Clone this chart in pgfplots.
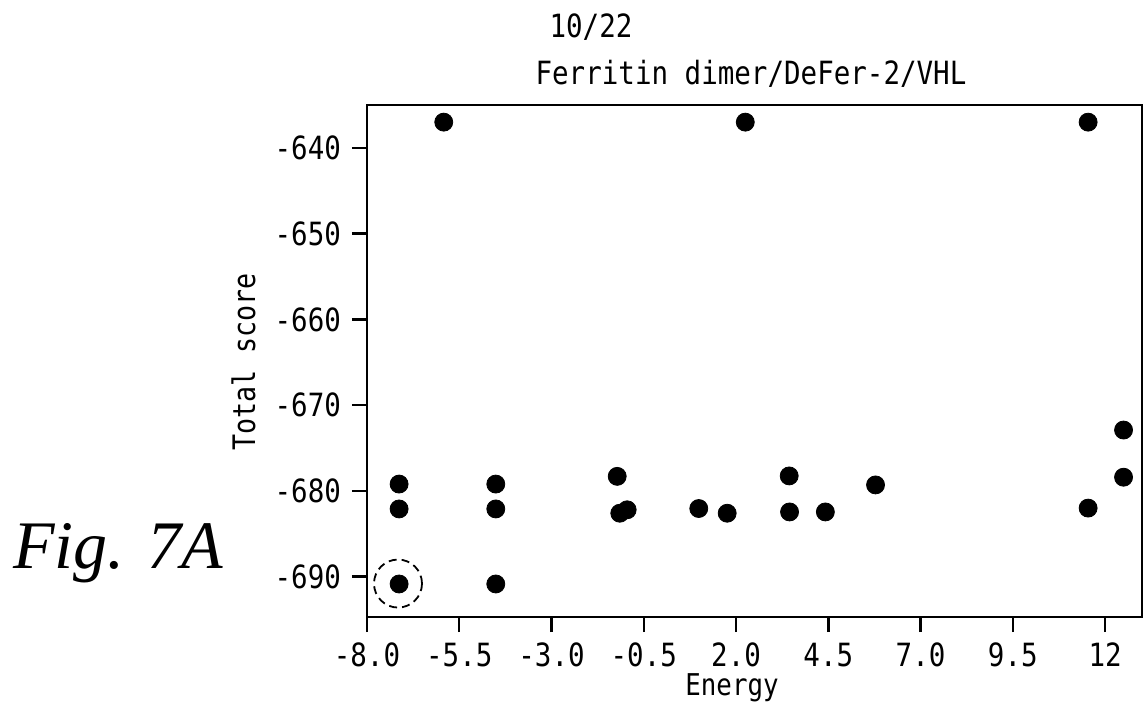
\documentclass[border=0pt]{standalone}
\usepackage{fontspec}
\usepackage{pgfplots}
\pgfplotsset{compat=1.18}
\setmainfont{DejaVu Sans Mono}
\newfontfamily\plotfont[FakeStretch=0.86]{DejaVu Sans Mono}
\newfontfamily\figfont{Liberation Serif}
\begin{document}
\begin{tikzpicture}
\begin{axis}[
  at={(0pt,0pt)}, anchor=south west,
  scale only axis, width=387.5pt, height=256pt,
  xmin=-8, xmax=13, ymin=-694.7, ymax=-635,
  axis line style={line width=1.3pt},
  xtick={-8,-5.5,-3,-0.5,2,4.5,7,9.5,12},
  xticklabels={-8.0,-5.5,-3.0,-0.5,2.0,4.5,7.0,9.5,12},
  ytick={-690,-680,-670,-660,-650,-640},
  yticklabels={-690,-680,-670,-660,-650,-640},
  xtick pos=left, ytick pos=left,
  tick align=outside,
  major tick length=7.5pt,
  tick style={line width=1.2pt, black},
  ticklabel style={font=\plotfont\fontsize{16}{18}\selectfont},
  xticklabel style={anchor=north, yshift=-2pt},
  yticklabel style={anchor=east, xshift=-2pt},
  xlabel={Energy},
  x label style={font=\plotfont\fontsize{15}{17}\selectfont, at={(rel axis cs:0,0)}, anchor=base, xshift=182.5pt, yshift=-39pt},
  clip=false,
]
\addplot[only marks, mark=*, mark size=4.5pt, black] coordinates {
(-5.92,-637.0) (2.25,-637.0) (11.54,-637.0)
(-7.13,-679.2) (-7.13,-682.1) (-7.13,-690.85)
(-4.51,-679.2) (-4.51,-682.1) (-4.51,-690.85)
(-1.22,-678.3) (-1.15,-682.6) (-0.95,-682.2)
(0.99,-682.05) (1.76,-682.6)
(3.44,-678.25) (3.45,-682.45) (4.42,-682.45) (5.78,-679.3)
(11.54,-682.0) (12.5,-672.9) (12.5,-678.4)
};
\addplot[only marks, mark=o, mark size=12pt, mark options={black, line width=0.9pt, dash pattern=on 4pt off 2.5pt}] coordinates {(-7.16,-690.8)};
\end{axis}
\node[font=\plotfont\fontsize{15.5}{17}\selectfont, rotate=90, anchor=center] at (-61.75pt,127.5pt) {Total score};
\node[font=\plotfont\fontsize{16}{18}\selectfont, anchor=base] at (112pt,289.5pt) {10/22};
\node[font=\plotfont\fontsize{16}{18}\selectfont, anchor=base] at (192pt,266pt) {Ferritin dimer/DeFer-2/VHL};
\node[font=\figfont\itshape\fontsize{34}{38}\selectfont, anchor=base west, inner sep=0pt] at (-177pt,24.5pt) {Fig. 7A};
\path[use as bounding box] (-183.5pt,-50.5pt) rectangle (388.5pt,308.5pt);
\end{tikzpicture}
\end{document}
